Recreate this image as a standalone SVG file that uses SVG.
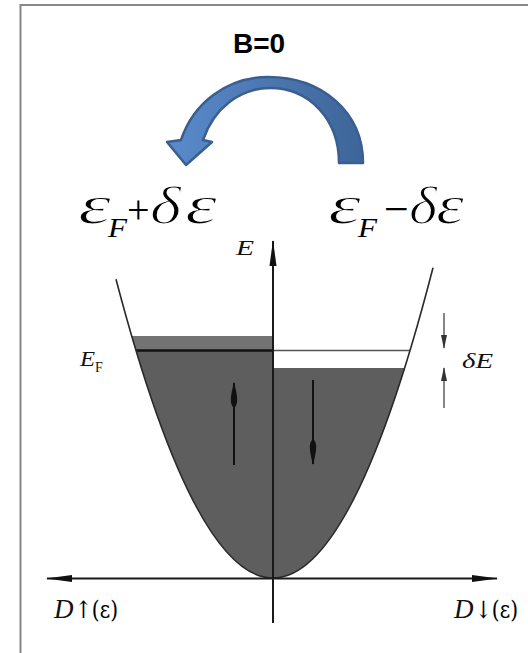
<svg xmlns="http://www.w3.org/2000/svg" width="528" height="653" viewBox="0 0 528 653">
<style>
.frame{stroke:#888;stroke-width:2;fill:none}
.axis{stroke:#1a1a1a;stroke-width:2;fill:none}
.thin{stroke:#444;stroke-width:1.3;fill:none}
.curve{stroke:#2a2a2a;stroke-width:1.6;fill:none}
.spin{stroke:#111;stroke-width:2;fill:none}
.math{font-family:"Liberation Serif","DejaVu Serif",serif;fill:#111}
.big{font-family:"Liberation Serif","DejaVu Serif",serif;fill:#000}
.slim{stroke:#fff;stroke-width:1.2}
.it{font-style:italic}
.cm{font-family:"DejaVu Serif","Liberation Serif",serif;fill:#000}
.title{font-family:"Liberation Sans",Arial,sans-serif;font-weight:bold;font-size:28px;fill:#000}
</style>
<defs>
<linearGradient id="blueGrad" x1="0" y1="0" x2="1" y2="0">
<stop offset="0" stop-color="#5a8bcb"/>
<stop offset="1" stop-color="#3d6599"/>
</linearGradient>
<clipPath id="bowl"><path d="M116,279.2 Q274.5,882.5 433,267.7 Z"/></clipPath>
<marker id="axHead" viewBox="0 0 26 8" refX="25" refY="4" markerWidth="26" markerHeight="8" markerUnits="userSpaceOnUse" orient="auto-start-reverse">
<path d="M0,0.5 L26,4 L0,7.5 Z" fill="#111"/>
</marker>
<marker id="spinHead" viewBox="0 0 26 10" refX="25" refY="5" markerWidth="26" markerHeight="10" markerUnits="userSpaceOnUse" orient="auto">
<path d="M0,5 C4,0.5 10,1 26,5 C10,9 4,9.5 0,5 Z" fill="#111"/>
</marker>
<marker id="smallHead" viewBox="0 0 14 6" refX="13" refY="3" markerWidth="14" markerHeight="6" markerUnits="userSpaceOnUse" orient="auto">
<path d="M0,0 L14,3 L0,6 Z" fill="#333"/>
</marker>
</defs>

<g id="frame">
<line class="frame" x1="20" y1="5" x2="528" y2="5"/>
<line class="frame" x1="20.5" y1="4" x2="20.5" y2="653"/>
</g>

<g id="title">
<text class="title" x="259" y="53" text-anchor="middle">B=0</text>
</g>

<g id="curved-arrow">
<path d="M363,163 C363,112 322,77 268,77 C226,77 193,104 181,140 L167,142 L186,165 L212,142 L203,140 C214,108 240,88 270,88 C310,88 339,120 339,163 Z" fill="url(#blueGrad)" stroke="#3a5e8e" stroke-width="2.5" stroke-linejoin="round"/>
</g>

<g id="label-left">
<text class="big it slim" x="78" y="223" font-size="54" textLength="33" lengthAdjust="spacingAndGlyphs">ε</text>
<text class="big it" x="108" y="237" font-size="28" textLength="19" lengthAdjust="spacingAndGlyphs">F</text>
<text class="big" x="127" y="223" font-size="40">+</text>
<text class="big it slim" x="150" y="223" font-size="52" textLength="31" lengthAdjust="spacingAndGlyphs">δ</text>
<text class="big it slim" x="185" y="223" font-size="54" textLength="32" lengthAdjust="spacingAndGlyphs">ε</text>
</g>
<g id="label-right">
<text class="big it slim" x="328" y="223" font-size="54" textLength="33" lengthAdjust="spacingAndGlyphs">ε</text>
<text class="big it" x="358" y="237" font-size="28" textLength="19" lengthAdjust="spacingAndGlyphs">F</text>
<text class="big" x="384" y="224" font-size="44">−</text>
<text class="big it slim" x="409" y="223" font-size="52" textLength="28" lengthAdjust="spacingAndGlyphs">δ</text>
<text class="big it slim" x="436" y="223" font-size="54" textLength="28" lengthAdjust="spacingAndGlyphs">ε</text>
</g>

<g id="bands">
<g clip-path="url(#bowl)">
<rect x="100" y="336" width="173" height="250" fill="#5e5e5e"/>
<rect x="100" y="336" width="173" height="14" fill="#737373"/>
<rect x="273" y="368" width="170" height="218" fill="#5e5e5e"/>
<line x1="100" y1="350.5" x2="273" y2="350.5" stroke="#111" stroke-width="2.5"/>
<line x1="273" y1="350.5" x2="440" y2="350.5" stroke="#555" stroke-width="1.6"/>
</g>
<path class="curve" d="M116,279.2 Q274.5,882.5 433,267.7"/>
</g>

<g id="connectors">
<line class="axis" x1="47" y1="578.5" x2="497" y2="578.5" marker-start="url(#axHead)" marker-end="url(#axHead)"/>
<line class="axis" x1="273" y1="623" x2="273" y2="241" marker-end="url(#axHead)"/>
<line class="spin" x1="234" y1="465" x2="234" y2="383" marker-end="url(#spinHead)"/>
<line class="spin" x1="313" y1="380" x2="313" y2="464" marker-end="url(#spinHead)"/>
<line class="thin" x1="444" y1="313" x2="444" y2="348" marker-end="url(#smallHead)"/>
<line class="thin" x1="444" y1="408" x2="444" y2="368" marker-end="url(#smallHead)"/>
</g>

<g id="axis-labels">
<text class="math it" x="236" y="255" font-size="21" textLength="18" lengthAdjust="spacingAndGlyphs">E</text>
<text class="math it" x="80" y="366" font-size="21" textLength="15" lengthAdjust="spacingAndGlyphs">E</text>
<text class="math" x="95" y="372" font-size="14">F</text>
<text class="math it" x="462" y="368" font-size="22" textLength="31" lengthAdjust="spacingAndGlyphs">δE</text>
<text class="math it" x="54" y="618" font-size="27">D</text>
<text class="cm" x="75" y="618" font-size="24" textLength="43" lengthAdjust="spacingAndGlyphs">↑(ε)</text>
<text class="math it" x="454" y="618" font-size="27">D</text>
<text class="cm" x="475" y="618" font-size="24" textLength="43" lengthAdjust="spacingAndGlyphs">↓(ε)</text>
</g>
</svg>
